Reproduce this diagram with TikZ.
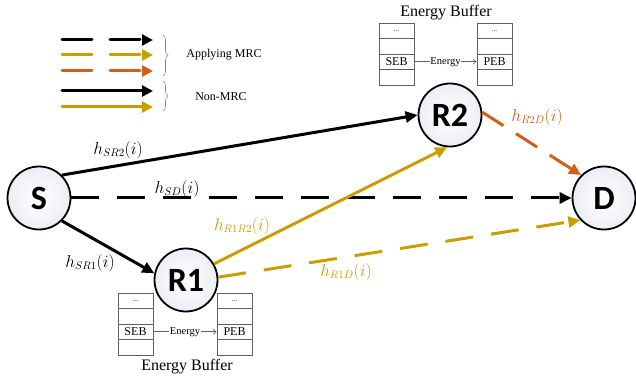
\documentclass[tikz,border=0pt]{standalone}
\usepackage{fontspec}
\setmainfont{Liberation Serif}
\newfontfamily\nodefont{Carlito}
\usetikzlibrary{arrows.meta,decorations.pathreplacing}
\definecolor{gold}{RGB}{200,158,0}
\definecolor{orng}{RGB}{210,95,25}
\definecolor{boxgray}{RGB}{95,95,95}
\begin{document}
\begin{tikzpicture}[x=1pt,y=-1pt,
  station/.style={circle, draw, line width=1.8pt, minimum size=63pt, inner sep=0pt,
    shading=radial, inner color=white, outer color={rgb,255:red,236;green,238;blue,244},
    font=\nodefont\bfseries\fontsize{34}{34}\selectfont},
  link/.style={line width=3pt, -{Triangle[length=12pt,width=11pt]}},
  dashlink/.style={link, dash pattern=on 28pt off 18pt},
  lab/.style={font=\fontsize{16}{19}\selectfont},
  cell/.style={draw=boxgray, line width=0.9pt, minimum width=35pt, minimum height=15.5pt,
    inner sep=0pt, font=\fontsize{12}{12}\selectfont},
  dots/.style={font=\fontsize{7}{7}\selectfont},
  energy/.style={draw=boxgray, line width=0.6pt, -{Straight Barb[length=3pt,width=5pt]}},
  elab/.style={fill=white, inner sep=0.8pt, font=\fontsize{10.5}{12}\selectfont},
  title/.style={font=\fontsize{16}{18}\selectfont},
  leg/.style={line width=3pt, line cap=round, -{Triangle[length=11pt,width=11pt]}},
  legdash/.style={leg, dash pattern=on 30pt off 18pt},
  legbrace/.style={draw=gray, line width=0.6pt, decorate, decoration={brace, amplitude=5pt}},
  legtext/.style={font=\fontsize{12}{14}\selectfont}
]
\useasboundingbox (0,0) rectangle (636,379);

% ---------- legend ----------
\coordinate (a1) at (62,40);  \coordinate (b1) at (153,40);
\coordinate (a2) at (62,55);  \coordinate (b2) at (153,55);
\coordinate (a3) at (62,71);  \coordinate (b3) at (153,71);
\coordinate (a4) at (62,91);  \coordinate (b4) at (153,91);
\coordinate (a5) at (62,107); \coordinate (b5) at (153,107);
\draw[legdash, black] (a1) -- (b1);
\draw[legdash, gold] (a2) -- (b2);
\draw[legdash, orng] (a3) -- (b3);
\draw[leg, black] (a4) -- (b4);
\draw[leg, gold] (a5) -- (b5);
\coordinate (br1t) at (163,35); \coordinate (br1b) at (163,76);
\coordinate (br2t) at (163,81); \coordinate (br2b) at (163,111);
\draw[legbrace] (br1t) -- (br1b);
\draw[legbrace] (br2t) -- (br2b);
\node[legtext] (mrc) at (224,55) {Applying MRC};
\node[legtext] (nonmrc) at (221,97) {Non-MRC};

% ---------- top energy buffer ----------
\node[title] (tbuf) at (446,13) {Energy Buffer};
\foreach \i/\t in {1/,2/,3/SEB,4/}{
  \node[cell] (tl\i) at (396.5,{15.25+15.5*\i}) {\t};
  \node[cell] (tr\i) at (494.5,{15.25+15.5*\i}) {};
}
\node[dots] at (tl1) {...};
\node[dots] at (tr1) {...};
\node[font=\fontsize{12}{12}\selectfont] at (tr3) {PEB};
\draw[energy] (tl3.east) -- node[elab] {Energy} (tr3.west);

% ---------- bottom energy buffer ----------
\node[title] (bbuf) at (187,367) {Energy Buffer};
\foreach \i/\t in {1/,2/,3/SEB,4/}{
  \node[cell] (bl\i) at (135.5,{285.25+15.5*\i}) {\t};
  \node[cell] (bq\i) at (234.5,{285.25+15.5*\i}) {};
}
\node[dots] at (bl1) {...};
\node[dots] at (bq1) {...};
\node[font=\fontsize{12}{12}\selectfont] at (bq3) {PEB};
\draw[energy] (bl3.east) -- node[elab] {Energy} (bq3.west);

% ---------- stations ----------
\node[station] (S)  at (39,198)  {S};
\node[station] (R1) at (186,280) {R1};
\node[station] (R2) at (450,115) {R2};
\node[station] (D)  at (604,198) {D};

% ---------- links ----------
\draw[link, black] (S.45) -- (R2.west);
\draw[dashlink, black] (S.east) -- (D.west);
\draw[link, black] (S.-45) -- (R1.168);
\draw[link, gold] (R1.30) -- (R2.265);
\draw[dashlink, gold] (R1.5) -- (D.223);
\draw[dashlink, orng, dash pattern=on 25pt off 15pt] (R2.5) -- (D.135);

% ---------- labels ----------
\node[lab] (lsr2) at (118,150) {$h_{SR2}(i)$};
\node[lab] (lsd) at (177,189) {$h_{SD}(i)$};
\node[lab] (lsr1) at (90,263) {$h_{SR1}(i)$};
\node[lab, text=gold] (lr1r2) at (242,226) {$h_{R1R2}(i)$};
\node[lab, text=gold] (lr1d) at (346,272) {$h_{R1D}(i)$};
\node[lab, text=orng] (lr2d) at (537,117) {$h_{R2D}(i)$};
\end{tikzpicture}
\end{document}
